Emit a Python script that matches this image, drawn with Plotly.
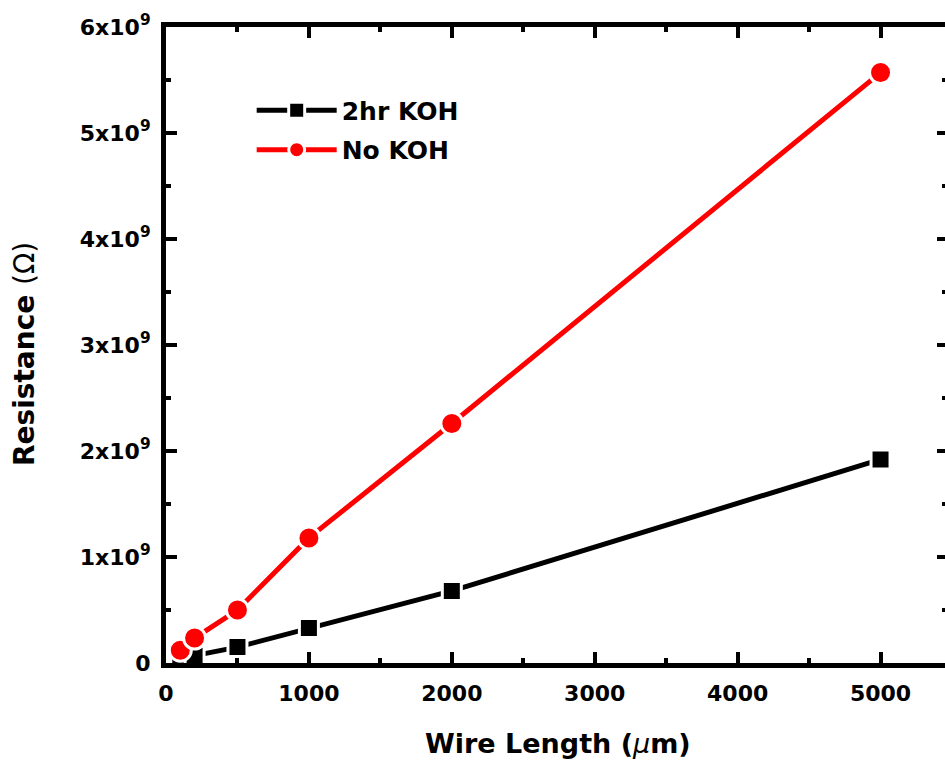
import plotly.graph_objects as go

wire_length = [100, 200, 500, 1000, 2000, 5000]
res_2hr_koh = [0.03e9, 0.07e9, 0.15e9, 0.33e9, 0.68e9, 1.92e9]
res_no_koh = [0.12e9, 0.235e9, 0.5e9, 1.18e9, 2.26e9, 5.57e9]
series_names = ["2hr KOH", "No KOH"]
y_tick_vals = [0, 1e9, 2e9, 3e9, 4e9, 5e9, 6e9]
y_tick_text = ["0", "1x10<sup>9</sup>", "2x10<sup>9</sup>", "3x10<sup>9</sup>",
               "4x10<sup>9</sup>", "5x10<sup>9</sup>", "6x10<sup>9</sup>"]
x_tick_vals = [0, 1000, 2000, 3000, 4000, 5000]
x_title = "<b>Wire Length (</b><i>\u03bc</i><b>m)</b>"
y_title = "<b>Resistance </b>(\u03a9)"

FONT = "DejaVu Sans, Verdana, sans-serif"
L, R, T, B = 166, 0, 27, 100
W, H = 945, 763
pw, ph = W - L - R, H - T - B

fig = go.Figure()
fig.add_trace(go.Scatter(
    x=wire_length, y=res_2hr_koh, name=series_names[0], mode="lines+markers",
    legendgroup="a",
    line=dict(color="black", width=5),
    marker=dict(symbol="square", size=19, color="black", line=dict(color="white", width=3)),
))
fig.add_trace(go.Scatter(
    x=wire_length, y=res_no_koh, name=series_names[1], mode="lines+markers",
    legendgroup="b",
    line=dict(color="#ff0000", width=5),
    marker=dict(symbol="circle", size=22, color="#ff0000", line=dict(color="white", width=3)),
))
# invisible trace for right-side ticks
fig.add_trace(go.Scatter(x=[0], y=[0], yaxis="y2", showlegend=False,
                         mode="markers", marker=dict(opacity=0), hoverinfo="skip"))

tickfont = dict(family=FONT, size=22, color="black", weight="bold")
fig.update_layout(
    width=W, height=H,
    margin=dict(l=L, r=R, t=T, b=B),
    paper_bgcolor="white", plot_bgcolor="white",
    font=dict(family=FONT, color="black"),
    showlegend=True,
    legend=dict(x=0.11, y=0.905, xanchor="left", yanchor="top",
                font=dict(family=FONT, size=25, color="black", weight="bold"),
                bgcolor="rgba(0,0,0,0)", itemwidth=80, tracegroupgap=4),
    xaxis=dict(
        range=[0, 5451], tickvals=x_tick_vals, showgrid=False, zeroline=False,
        showline=True, linecolor="black", linewidth=5, mirror="ticks",
        ticks="inside", ticklen=11, tickwidth=4, tickcolor="black",
        minor=dict(ticks="inside", ticklen=5, tickwidth=4, dtick=500, tickcolor="black", showgrid=False),
        tickfont=tickfont, ticklabelstandoff=7,
    ),
    yaxis=dict(
        range=[0, 6e9], tickvals=y_tick_vals, ticktext=y_tick_text, showgrid=False, zeroline=False,
        showline=True, linecolor="black", linewidth=5, mirror=False,
        ticks="inside", ticklen=11, tickwidth=4, tickcolor="black",
        minor=dict(ticks="inside", ticklen=5, tickwidth=4, dtick=0.5e9, tickcolor="black", showgrid=False),
        tickfont=tickfont, ticklabelstandoff=6,
    ),
    yaxis2=dict(
        overlaying="y", side="right", matches="y", range=[0, 6e9],
        tickvals=y_tick_vals, showticklabels=False, showgrid=False, zeroline=False,
        showline=False, ticks="inside", ticklen=8, tickwidth=4, tickcolor="black",
        minor=dict(ticks="inside", ticklen=3, tickwidth=4, dtick=0.5e9, tickcolor="black", showgrid=False),
    ),
    annotations=[
        dict(text=y_title, xref="paper", yref="paper", x=(25 - L) / pw, y=(H - B - 354) / ph,
             xanchor="center", yanchor="middle", textangle=-90, showarrow=False,
             font=dict(family=FONT, size=28, color="black")),
        dict(text=x_title, xref="paper", yref="paper", x=(558 - L) / pw, y=(H - B - 743) / ph,
             xanchor="center", yanchor="middle", showarrow=False,
             font=dict(family=FONT, size=27, color="black")),
    ],
)

fig.write_html("out.html", config={"displayModeBar": False},
               post_script="document.body.style.margin='0px';")
